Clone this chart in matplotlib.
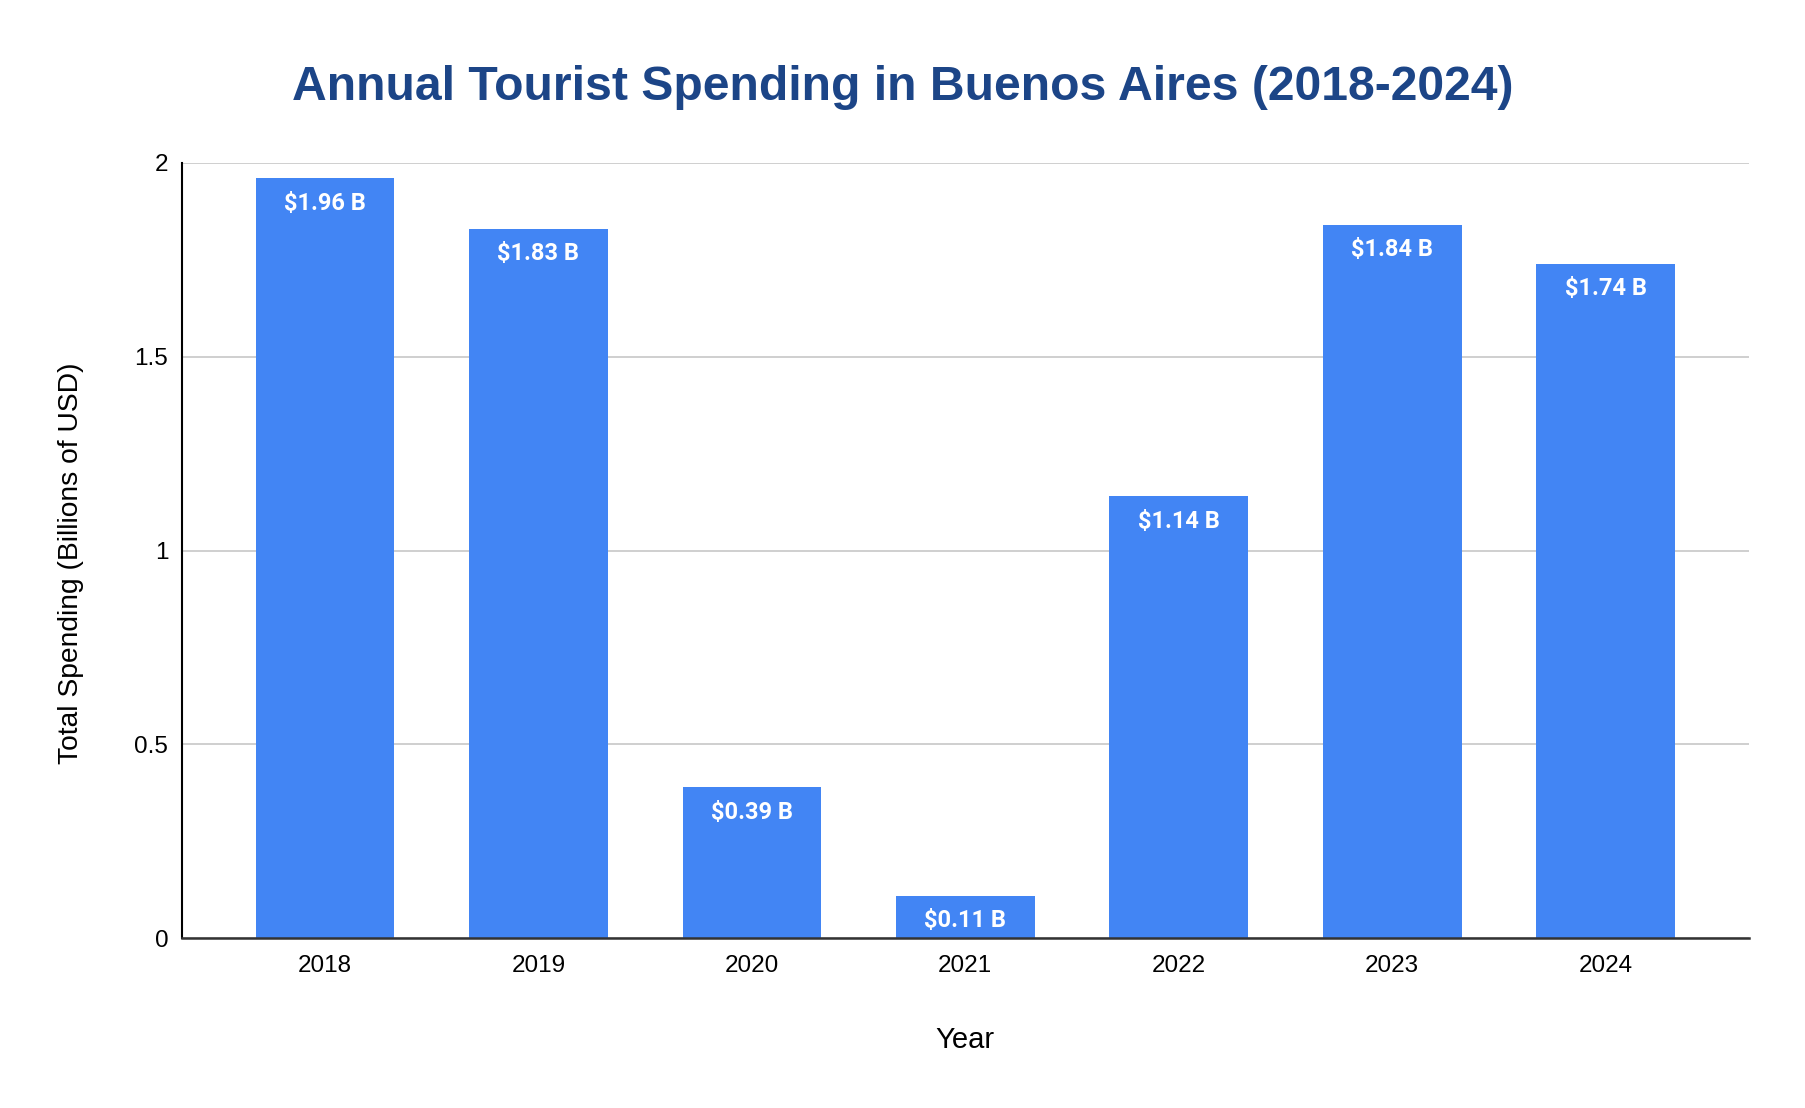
import matplotlib
matplotlib.use("Agg")
import matplotlib.pyplot as plt

years = ["2018", "2019", "2020", "2021", "2022", "2023", "2024"]
spending = [1.96, 1.83, 0.39, 0.11, 1.14, 1.84, 1.74]
bar_labels = ["$1.96 B", "$1.83 B", "$0.39 B", "$0.11 B", "$1.14 B", "$1.84 B", "$1.74 B"]
y_ticks = [0, 0.5, 1, 1.5, 2]
y_tick_labels = ["0", "0.5", "1", "1.5", "2"]

plt.rcParams['font.family'] = ['Liberation Sans', 'DejaVu Sans']

fig = plt.figure(figsize=(18.06, 11.08), dpi=100)
ax = fig.add_axes([0.1008, 0.1532, 0.9682 - 0.1008, 0.853 - 0.1532])

x = list(range(len(years)))
bars = ax.bar(x, spending, width=0.65, color="#4285F4", zorder=3)

for xi, v, lab in zip(x, spending, bar_labels):
    ax.annotate(lab, xy=(xi, v), xytext=(0, -25), textcoords="offset pixels",
                ha="center", va="center", color="white", fontsize=17,
                fontweight="bold", family=["Roboto", "DejaVu Sans"], zorder=4)

ax.set_xlim(-0.67, 6.67)
ax.set_ylim(0, 2)
ax.set_xticks(x)
ax.set_xticklabels(years, fontsize=17.5)
ax.tick_params(axis="both", length=0)
ax.set_yticks(y_ticks)
ax.set_yticklabels(y_tick_labels, fontsize=17.5)
ax.tick_params(axis="x", pad=12)
ax.tick_params(axis="y", pad=10)

ax.grid(axis="y", color="#cccccc", linewidth=1.3, zorder=0)
for s in ["top", "right"]:
    ax.spines[s].set_visible(False)
ax.spines["left"].set_color("black")
ax.spines["left"].set_linewidth(1.5)
ax.spines["bottom"].set_color("#333333")
ax.spines["bottom"].set_linewidth(1.8)
ax.spines["bottom"].set_zorder(5)

ax.set_xlabel("Year", fontsize=21, labelpad=35)
ax.set_ylabel("Total Spending (Billions of USD)", fontsize=20.3)
ax.yaxis.set_label_coords(-0.0625, 0.484)

fig.text(0.5, 0.921,
         "Annual Tourist Spending in Buenos Aires (2018-2024)",
         ha="center", va="center", fontsize=34.7, fontweight="bold", color="#1c4587")

fig.savefig("out.png", dpi=100, facecolor="white")
